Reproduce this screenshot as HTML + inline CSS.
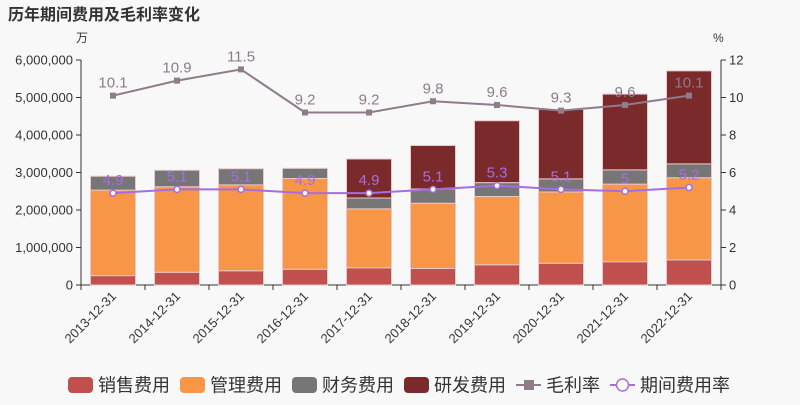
<!DOCTYPE html>
<html><head><meta charset="utf-8"><style>
body{margin:0;background:#f8f8f8;}
svg{font-family:"Liberation Sans","Noto Sans CJK SC",sans-serif;}
</style></head><body>
<svg id="c" width="800" height="400">
<rect width="800" height="400" fill="#f8f8f8"/>
<text x="8" y="20" font-size="16" font-weight="bold" fill="#333">历年期间费用及毛利率变化</text>
<text x="76" y="42" font-size="12" fill="#333">万</text>
<text x="713" y="42" font-size="12" fill="#333">%</text>
<g id="g"></g>
</svg>
<script>
const categories=["2013-12-31","2014-12-31","2015-12-31","2016-12-31","2017-12-31","2018-12-31","2019-12-31","2020-12-31","2021-12-31","2022-12-31"];
const sales=[250000,340000,380000,420000,460000,440000,540000,580000,620000,670000];
const mgmt=[2280000,2280000,2290000,2420000,1570000,1740000,1820000,1900000,2070000,2190000];
const fin=[370000,440000,430000,270000,290000,380000,370000,350000,380000,370000];
const rd=[0,0,0,0,1040000,1160000,1650000,1850000,2020000,2480000];
const margin=[10.1,10.9,11.5,9.2,9.2,9.8,9.6,9.3,9.6,10.1];
const expRate=[4.9,5.1,5.1,4.9,4.9,5.1,5.3,5.1,5,5.2];
const leftTicks=[0,1000000,2000000,3000000,4000000,5000000,6000000];
const rightTicks=[0,2,4,6,8,10,12];
const X0=81,X1=721,Y0=285,Y1=60;
const bw=(X1-X0)/categories.length;
const xc=i=>X0+bw*(i+0.5);
const yL=v=>Y0-(v/6000000)*(Y0-Y1);
const yR=v=>Y0-(v/12)*(Y0-Y1);
const g=document.getElementById('g');
const NS='http://www.w3.org/2000/svg';
function mk(t,a,txt){const e=document.createElementNS(NS,t);for(const k in a)e.setAttribute(k,a[k]);if(txt!==undefined)e.textContent=txt;g.appendChild(e);return e;}
let e=mk('line',{x1:X0,y1:Y0,x2:X1,y2:Y0,stroke:'#333'});


e=mk('line',{x1:X0,y1:Y1,x2:X0,y2:Y0,stroke:'#333'});


e=mk('line',{x1:X1,y1:Y1,x2:X1,y2:Y0,stroke:'#333'});


leftTicks.forEach(v=>{mk('line',{x1:X0-5,x2:X0,y1:yL(v),y2:yL(v),stroke:'#333'});
 e=mk('text',{x:X0-8,y:yL(v)+4.5,'text-anchor':'end','font-size':13,fill:'#333'},v.toLocaleString('en-US'));
 
 });
rightTicks.forEach(v=>{mk('line',{x1:X1,x2:X1+5,y1:yR(v),y2:yR(v),stroke:'#333'});
 e=mk('text',{x:X1+8,y:yR(v)+4.5,'font-size':13,fill:'#333'},v);
 
 });
for(let i=0;i<=categories.length;i++)mk('line',{x1:X0+bw*i,x2:X0+bw*i,y1:Y0,y2:Y0+5,stroke:'#333'});
categories.forEach((c,i)=>{e=mk('text',{x:xc(i)+4,y:Y0+12,'text-anchor':'end','font-size':13,fill:'#333',transform:`rotate(-45 ${xc(i)+4} ${Y0+12})`},c);
 
 });
const series=[[sales,'#c0504d','sales'],[mgmt,'#f79646','mgmt'],[fin,'#767676','finance'],[rd,'#7b2a2b','rd']];
categories.forEach((c,i)=>{let acc=0;series.forEach(([arr,col,nm])=>{const v=arr[i];if(v<=0)return;
 const r=mk('rect',{x:xc(i)-22.5,y:yL(acc+v),width:45,height:yL(acc)-yL(acc+v),fill:col,stroke:'#e8c8c8','stroke-width':1});
 
 
 acc+=v;});});
function line(arr,col,nm,sq){
 const p=mk('polyline',{points:arr.map((v,i)=>xc(i)+','+yR(v)).join(' '),fill:'none',stroke:col,'stroke-width':2});
 
 
 arr.forEach((v,i)=>{let m;
  if(sq)m=mk('rect',{x:xc(i)-3,y:yR(v)-3,width:6,height:6,fill:col});
  else m=mk('circle',{cx:xc(i),cy:yR(v),r:3,fill:'#fff',stroke:col,'stroke-width':1.5});
  
  
  const t=mk('text',{x:xc(i),y:yR(v)-8,'text-anchor':'middle','font-size':15,fill:col},v);
  
  });}
line(margin,'#8e7b8b','gross-margin',true);
line(expRate,'#a66de0','expense-rate',false);
const leg=[['销售费用','#c0504d','r'],['管理费用','#f79646','r'],['财务费用','#767676','r'],['研发费用','#7b2a2b','r'],['毛利率','#8e7b8b','s'],['期间费用率','#a66de0','c']];
let lx=68;const ly=385;
leg.forEach(([t,col,k])=>{
 if(k==='r'){e=mk('rect',{x:lx,y:ly-8,width:25,height:16,rx:4,fill:col});}
 else{mk('line',{x1:lx,x2:lx+25,y1:ly,y2:ly,stroke:col,'stroke-width':2});
  if(k==='s')e=mk('rect',{x:lx+8,y:ly-5,width:10,height:10,fill:col});
  else e=mk('circle',{cx:lx+12.5,cy:ly,r:6,fill:'#fff',stroke:col,'stroke-width':1.5});}
 
 
 const tx=mk('text',{x:lx+30,y:ly+6.5,'font-size':18,fill:'#333'},t);
 
 
 lx+=30+t.length*18+10;});
</script>
</body></html>
